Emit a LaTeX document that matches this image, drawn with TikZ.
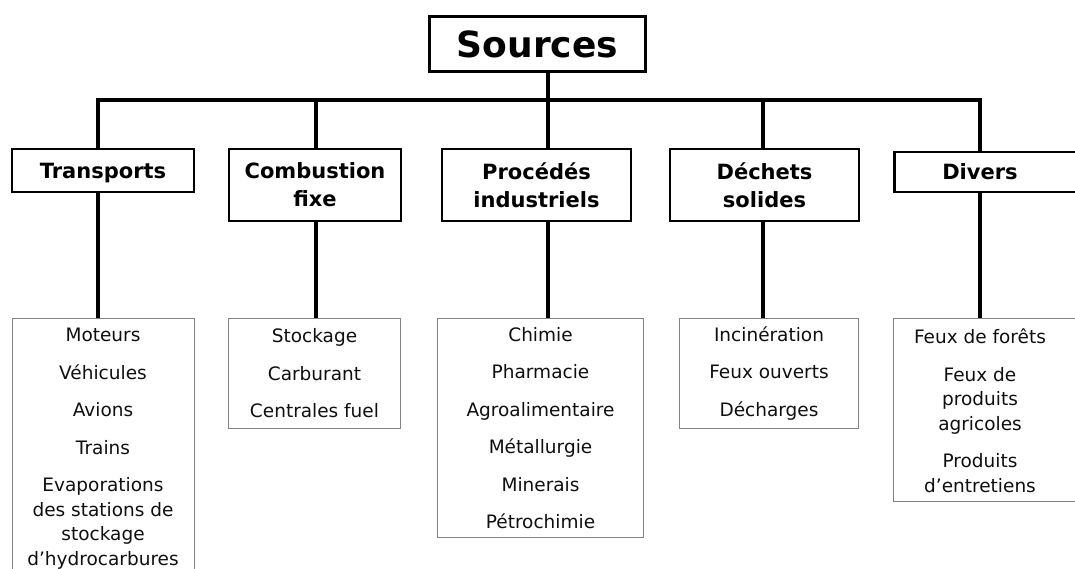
\documentclass[tikz,border=0pt]{standalone}
\usepackage{fontspec}
\setmainfont{DejaVu Sans}
\definecolor{boxgray}{RGB}{130,130,130}
\definecolor{txt}{RGB}{15,15,15}
\begin{document}
\begin{tikzpicture}[x=1pt,y=-1pt,
  hdr/.style={draw, line width=2.6pt, align=center, inner sep=0pt,
    font=\bfseries\fontsize{21}{28}\selectfont},
  hdrtext/.style={inner sep=0pt, font=\bfseries\fontsize{21}{28}\selectfont},
  lst/.style={draw=boxgray, line width=1.3pt, align=center, inner sep=0pt,
    text=txt, font=\fontsize{18.5}{24.5}\selectfont},
  lsttext/.style={align=center, inner sep=0pt, text=txt,
    font=\fontsize{18.5}{24.5}\selectfont},
  conn/.style={line width=3.3pt, line join=miter}
]
\useasboundingbox (0,0) rectangle (1075,569);

% top
\node[hdr, line width=3.5pt, minimum width=216pt, minimum height=55pt,
  font=\bfseries\fontsize{36}{40}\selectfont] (src) at (537.5,44) {Sources};

% categories
\node[hdr, minimum width=182pt, minimum height=43pt, text height=17pt, text depth=0pt] (tr) at (103,170.5) {Transports};
\node[hdr, minimum width=172pt, minimum height=72pt] (cf) at (315,185) {Combustion\\fixe};
\node[hdr, minimum width=189pt, minimum height=72pt] (pi) at (536.5,185) {Procédés\\industriels};
\node[hdr, minimum width=189pt, minimum height=72pt] (ds) at (764.5,185) {Déchets\\solides};
\node[hdr, minimum width=200pt, minimum height=40pt, anchor=west] (dv) at (893,172) {};
\node[hdrtext] (dvt) at (980,172) {Divers};

% lists
\node[lst, minimum width=182pt, minimum height=270pt, anchor=north] (trl) at (103.5,318) {};
\node[lsttext, anchor=north] (trlt) at (103,328) {Moteurs\\[13pt]Véhicules\\[13pt]Avions\\[13pt]Trains\\[13pt]Evaporations\\des stations de\\stockage\\d’hydrocarbures};

\node[lst, minimum width=172pt, minimum height=110pt] (cfl) at (314.5,373.5)
  {Stockage\\[13pt]Carburant\\[13pt]Centrales fuel};

\node[lst, minimum width=206pt, minimum height=219pt] (pil) at (540.5,428)
  {Chimie\\[13pt]Pharmacie\\[13pt]Agroalimentaire\\[13pt]Métallurgie\\[13pt]Minerais\\[13pt]Pétrochimie};

\node[lst, minimum width=179pt, minimum height=110pt] (dsl) at (769,373.5)
  {Incinération\\[13pt]Feux ouverts\\[13pt]Décharges};

\node[lst, minimum width=200pt, minimum height=183pt, anchor=west] (dvl) at (893,410) {};
\node[lsttext] (dvlt) at (980,410.5) {Feux de forêts\\[13pt]Feux de\\produits\\agricoles\\[13pt]Produits\\d’entretiens};

% bus
\coordinate (b1) at (98,100);
\coordinate (b2) at (316,100);
\coordinate (b3) at (548,100);
\coordinate (b4) at (763,100);
\coordinate (b5) at (980,100);

\draw[conn] (src.south -| b3) -- (b3);
\draw[conn] (tr.north -| b1) -- (b1) -- (b5) -- (dv.north -| b5);
\draw[conn] (b2) -- (cf.north -| b2);
\draw[conn] (b3) -- (pi.north -| b3);
\draw[conn] (b4) -- (ds.north -| b4);

% down connectors
\draw[conn] (tr.south -| b1) -- (trl.north -| b1);
\draw[conn] (cf.south -| b2) -- (cfl.north -| b2);
\draw[conn] (pi.south -| b3) -- (pil.north -| b3);
\draw[conn] (ds.south -| b4) -- (dsl.north -| b4);
\draw[conn] (dv.south -| b5) -- (dvl.north -| b5);
\end{tikzpicture}
\end{document}
